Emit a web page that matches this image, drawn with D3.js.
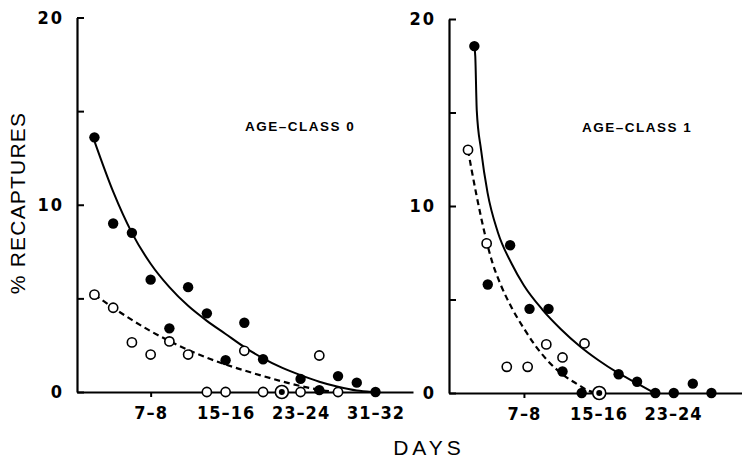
<!DOCTYPE html>
<html>
<head>
<meta charset="utf-8">
<script src="https://cdn.jsdelivr.net/npm/d3@7/dist/d3.min.js"></script>
<style>
  html, body { margin: 0; padding: 0; background: #fff; }
  svg { display: block; }
</style>
</head>
<body>
<svg id="chart" width="742" height="460"></svg>
<script>
// ---------- DATA ----------
const categories = ["1–2","3–4","5–6","7–8","9–10","11–12","13–14","15–16","17–18","19–20","21–22","23–24","25–26","27–28","29–30","31–32"];
const leftTickLabels = ["7–8","15–16","23–24","31–32"];
const rightTickLabels = ["7–8","15–16","23–24"];
const yTicks = [0, 5, 10, 15, 20];
const yLabelled = [0, 10, 20];

// Age-class 0 (left panel) — x is category index
const leftFilledX = [0, 1, 2, 3, 4, 5, 6, 7, 8, 9, 10, 11, 12, 13, 14, 15];
const leftFilledY = [13.6, 9.0, 8.5, 6.0, 3.4, 5.6, 4.2, 1.7, 3.7, 1.75, 0, 0.7, 0.1, 0.85, 0.5, 0];
const leftOpenX = [0, 1, 2, 3, 4, 5, 6, 7, 8, 9, 10, 11, 12, 13];
const leftOpenY = [5.2, 4.5, 2.65, 2.0, 2.7, 2.0, 0, 0, 2.2, 0, 0, 0, 1.95, 0];
const leftSolidX = [0, 1, 2, 3, 4, 5, 6, 7, 8, 9, 10, 11, 12, 13, 14, 14.8];
const leftSolidY = [13.4, 10.7, 8.5, 6.85, 5.6, 4.6, 3.8, 3.1, 2.4, 1.8, 1.3, 0.9, 0.55, 0.28, 0.08, 0];
const leftDashX = [0, 1, 2, 3, 4, 5, 6, 7, 8, 9, 10, 11, 12, 12.9];
const leftDashY = [5.2, 4.5, 3.85, 3.25, 2.72, 2.25, 1.83, 1.47, 1.15, 0.85, 0.57, 0.32, 0.12, 0];

// Age-class 1 (right panel)
const rightFilledX = [0.34, 1.06, 2.26, 3.3, 4.32, 5.07, 6.1, 7.04, 8.08, 9.07, 10.05, 11.04, 12.06, 13.06];
const rightFilledY = [18.55, 5.8, 7.9, 4.5, 4.5, 1.15, 0, 0, 1.0, 0.6, 0, 0, 0.5, 0];
const rightOpenX = [0, 1, 2.08, 3.2, 4.2, 5.07, 6.25, 7.04];
const rightOpenY = [13.0, 8.0, 1.4, 1.4, 2.6, 1.9, 2.65, 0];
const rightSolidX = [0.34, 0.39, 0.47, 0.7, 1.05, 1.6, 2.35, 3.0, 4.0, 5.0, 6.0, 7.0, 8.0, 9.0, 10.0];
const rightSolidY = [18.5, 18.0, 15.1, 13.0, 10.7, 8.6, 6.9, 5.75, 4.45, 3.4, 2.5, 1.75, 1.1, 0.55, 0];
const rightDashX = [0, 0.2, 0.45, 0.7, 1.0, 1.3, 1.75, 2.35, 3.0, 3.6, 4.3, 5.0, 5.9, 6.4, 6.85];
const rightDashY = [13.0, 11.9, 10.6, 9.4, 8.1, 7.0, 5.8, 4.55, 3.45, 2.55, 1.7, 1.05, 0.45, 0.15, 0];

const panelTitles = ["AGE–CLASS 0", "AGE–CLASS 1"];
const yTitle = "% RECAPTURES";
const xTitle = "DAYS";

// ---------- DRAW ----------
const svg = d3.select("#chart");
const tickFont = "'Liberation Sans Narrow','DejaVu Sans Condensed','Liberation Sans',sans-serif";

const panels = [
  {
    x: d3.scaleLinear().domain([-0.93, 17]).range([77, 413]),
    y: d3.scaleLinear().domain([0, 20]).range([392, 17.5]),
    ticks: leftTickLabels,
    filled: d3.zip(leftFilledX, leftFilledY),
    open: d3.zip(leftOpenX, leftOpenY),
    solid: d3.zip(leftSolidX, leftSolidY),
    dash: d3.zip(leftDashX, leftDashY),
    title: panelTitles[0], titleX: 245, titleY: 131
  },
  {
    x: d3.scaleLinear().domain([-1.02, 14.7]).range([449, 742]),
    y: d3.scaleLinear().domain([0, 20]).range([393, 19]),
    ticks: rightTickLabels,
    filled: d3.zip(rightFilledX, rightFilledY),
    open: d3.zip(rightOpenX, rightOpenY),
    solid: d3.zip(rightSolidX, rightSolidY),
    dash: d3.zip(rightDashX, rightDashY),
    title: panelTitles[1], titleX: 582, titleY: 132
  }
];

panels.forEach(p => {
  const g = svg.append("g");

  // y axis
  const yAxis = d3.axisLeft(p.y)
    .tickValues(yTicks)
    .tickSizeInner(-7)
    .tickSizeOuter(0)
    .tickPadding(13)
    .tickFormat(d => yLabelled.includes(d) ? String(d) : "");
  const ya = g.append("g").attr("transform", `translate(${p.x.range()[0]},0)`).call(yAxis);
  ya.select(".domain").attr("stroke", "#000").attr("stroke-width", 2.2);
  ya.selectAll(".tick line").attr("stroke", "#000").attr("stroke-width", 2);
  ya.selectAll(".tick text")
    .attr("font-family", tickFont).attr("font-weight", "bold")
    .attr("font-size", 18).attr("letter-spacing", "2px").attr("fill", "#000");

  // x axis
  const xAxis = d3.axisBottom(p.x)
    .tickValues(p.ticks.map(t => categories.indexOf(t)))
    .tickFormat(i => categories[i])
    .tickSizeInner(5)
    .tickSizeOuter(0)
    .tickPadding(9);
  const xa = g.append("g").attr("transform", `translate(0,${p.y(0)})`).call(xAxis);
  xa.select(".domain").attr("stroke", "#000").attr("stroke-width", 2.2);
  xa.selectAll(".tick line").attr("stroke", "#000").attr("stroke-width", 2);
  xa.selectAll(".tick text")
    .attr("font-family", tickFont).attr("font-weight", "bold")
    .attr("font-size", 18).attr("letter-spacing", "1px").attr("fill", "#000");

  // curves
  const line = d3.line().x(d => p.x(d[0])).y(d => p.y(d[1])).curve(d3.curveMonotoneX);
  g.append("path").attr("d", line(p.solid))
    .attr("fill", "none").attr("stroke", "#000").attr("stroke-width", 2);
  g.append("path").attr("d", line(p.dash))
    .attr("fill", "none").attr("stroke", "#000").attr("stroke-width", 2.2)
    .attr("stroke-dasharray", "6,4");

  // detect coincident open/filled points (bullseye)
  const isBoth = (a, list) => list.some(b => Math.abs(a[0] - b[0]) < 0.1 && Math.abs(a[1] - b[1]) < 0.05);
  const openPts = p.open.map(d => ({ d, both: isBoth(d, p.filled) }));
  const filledPts = p.filled.map(d => ({ d, both: isBoth(d, p.open) }));

  g.selectAll("circle.open").data(openPts).join("circle")
    .attr("class", "open")
    .attr("cx", o => p.x(o.d[0])).attr("cy", o => p.y(o.d[1]))
    .attr("r", o => o.both ? 6.5 : 4.6)
    .attr("fill", "#fff").attr("stroke", "#000").attr("stroke-width", 1.6);

  g.selectAll("circle.filled").data(filledPts).join("circle")
    .attr("class", "filled")
    .attr("cx", o => p.x(o.d[0])).attr("cy", o => p.y(o.d[1]))
    .attr("r", o => o.both ? 3 : 5.2)
    .attr("fill", "#000");

  // panel title
  g.append("text").attr("x", p.titleX).attr("y", p.titleY)
    .attr("font-family", "'Liberation Sans',Arial,sans-serif").attr("font-weight", "bold")
    .attr("font-size", 13.5).attr("letter-spacing", "1.5px").attr("fill", "#000")
    .text(p.title);
});

// axis titles
svg.append("text")
  .attr("transform", "translate(25,203) rotate(-90)")
  .attr("text-anchor", "middle")
  .attr("font-family", "'Liberation Sans',Arial,sans-serif")
  .attr("font-size", 21).attr("letter-spacing", "1.2px").attr("fill", "#000")
  .text(yTitle);

svg.append("text")
  .attr("x", 429).attr("y", 455)
  .attr("text-anchor", "middle")
  .attr("font-family", "'Liberation Sans',Arial,sans-serif")
  .attr("font-size", 21).attr("letter-spacing", "4px").attr("fill", "#000")
  .text(xTitle);
</script>
</body>
</html>
